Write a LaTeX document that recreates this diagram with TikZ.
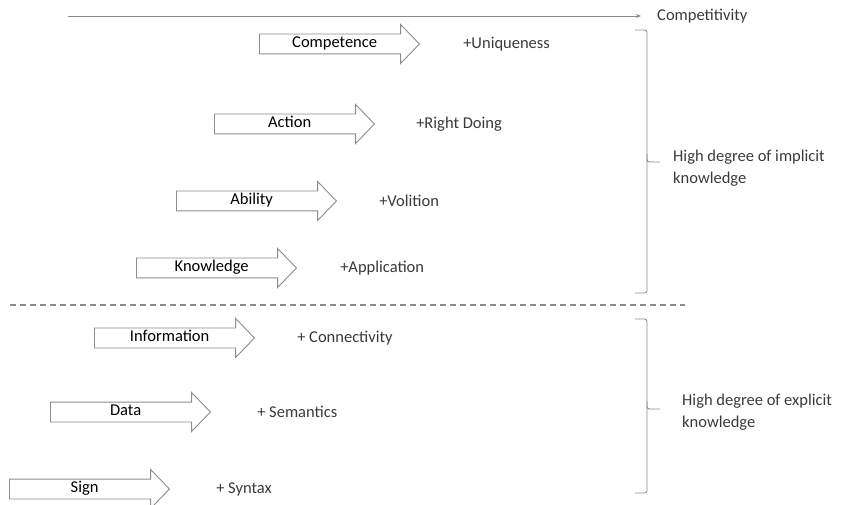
\documentclass[tikz,border=0pt]{standalone}
\usepackage{fontspec}
\setmainfont{Carlito}
\usetikzlibrary{shapes.arrows,positioning,arrows.meta}
\definecolor{linegray}{HTML}{8C8C8C}
\definecolor{txtgray}{HTML}{3A3A3A}
\begin{document}
\begin{tikzpicture}[
  x=1pt, y=-1pt,
  every node/.style = {font=\fontsize{16.5}{22}\selectfont, text=txtgray},
  stage/.style = {shape=single arrow, draw=linegray, line width=0.9pt,
    fill=white, anchor=tail, minimum height=160pt, text=black,
    single arrow head extend=9.5pt, single arrow tip angle=92,
    text height=11pt, text depth=4pt, inner ysep=2pt, inner xsep=2pt},
  gain/.style = {inner sep=0pt, anchor=west},
  bracket/.style = {draw=linegray, line width=0.9pt, rounded corners=2.5pt},
  note/.style = {inner sep=0pt, anchor=west, align=left}]
\useasboundingbox (0,0) rectangle (844,505);
% axis on top
\coordinate (axL) at (68,16);
\coordinate (axR) at (641,16);
\node[gain] (competitivity) at (657,16) {Competitivity};
\draw[linegray, line width=0.9pt, -{Stealth[length=5pt,width=4pt]}] (axL) -- (axR);
% implicit part
\node[stage] (competence) at (259,44) {Competence};
\node[stage] (action) at (214,124) {Action};
\node[stage] (ability) at (176,201) {Ability};
\node[stage] (knowledge) at (136,268) {Knowledge};
\node[gain, right=43pt of competence.tip] (uniqueness) {+Uniqueness};
\node[gain, right=41pt of action.tip] (rightdoing) {+Right Doing};
\node[gain, right=42pt of ability.tip] (volition) {+Volition};
\node[gain, right=43pt of knowledge.tip] (application) {+Application};
% separation
\coordinate (sepL) at (10,305);
\coordinate (sepR) at (685,305);
\draw[linegray, line width=1.6pt, dash pattern=on 6pt off 4pt] (sepL) -- (sepR);
% explicit part
\node[stage] (information) at (94,338) {Information};
\node[stage] (data) at (50,412) {Data};
\node[stage] (sign) at (9,489) {Sign};
\node[gain, right=42pt of information.tip] (connectivity) {+ Connectivity};
\node[gain, right=46pt of data.tip] (semantics) {+ Semantics};
\node[gain, right=46pt of sign.tip] (syntax) {+ Syntax};
% braces
\coordinate (b1tip) at (660,162);
\coordinate (b2tip) at (660,409);
\draw[bracket] (635,30) -- (647,30) -- (647,293) -- (635,293);
\draw[bracket] (647,154) |- (b1tip);
\draw[bracket] (635,319) -- (647,319) -- (647,493) -- (635,493);
\draw[bracket] (647,401) |- (b2tip);
\node[note] (implicit) at (673,168) {High degree of implicit\\knowledge};
\node[note] (explicit) at (682,412) {High degree of explicit\\knowledge};
\end{tikzpicture}
\end{document}
